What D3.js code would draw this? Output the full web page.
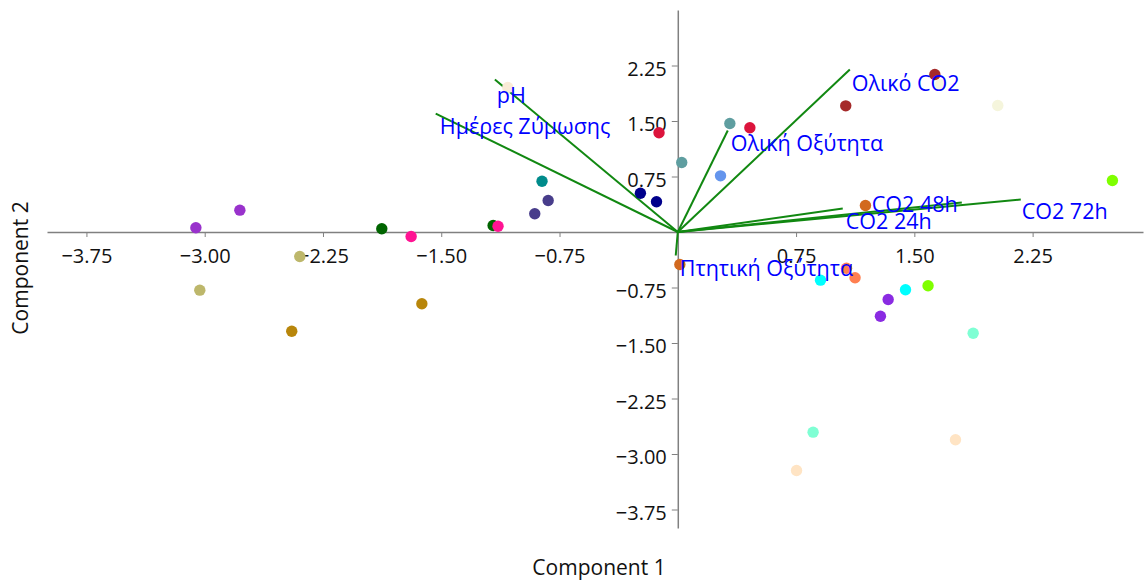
<!DOCTYPE html>
<html>
<head>
<meta charset="utf-8">
<script src="https://cdn.jsdelivr.net/npm/d3@7"></script>
<style>
  body { margin: 0; background: #fff; }
  svg { display: block; font-family: "Open Sans", "Noto Sans", sans-serif; }
</style>
</head>
<body>
<svg id="chart" width="1146" height="580"></svg>
<script>
// tick values
const xTicks = [-3.75, -3.00, -2.25, -1.50, -0.75, 0.75, 1.50, 2.25];
const yTicks = [2.25, 1.50, 0.75, -0.75, -1.50, -2.25, -3.00, -3.75];

// sample scores (component 1, component 2) and the sample they belong to
const pointX = [-3.056, -2.777, -3.031, -2.397, -2.448, -1.623, -1.877, -1.171, -1.691, -1.140,
                -0.861, -0.822, -0.907, -0.119, 0.457, 0.330, 0.025, 0.271, -0.237, -0.135,
                1.065, 1.630, 1.666, 2.029, 1.190, 0.013, 1.070, 1.124, 0.905, 1.444,
                1.587, 2.756, 1.334, 1.285, 1.873, 0.858, 1.761, 0.753, -1.078];
const pointY = [0.057, 0.295, -0.786, -0.331, -1.341, -0.970, 0.043, 0.088, -0.061, 0.078,
                0.686, 0.426, 0.246, 1.341, 1.408, 1.466, 0.939, 0.759, 0.524, 0.408,
                1.705, 2.128, 1.993, 1.709, 0.358, -0.439, -0.489, -0.619, -0.651, -0.781,
                -0.727, 0.696, -0.912, -1.138, -1.368, -2.705, -2.808, -3.223, 1.953];
const pointGroup = [1, 1, 2, 2, 3, 3, 4, 4, 5, 5,
                    6, 7, 7, 8, 8, 9, 9, 10, 11, 11,
                    12, 12, 13, 13, 14, 14, 15, 15, 16, 16,
                    17, 17, 18, 18, 19, 19, 20, 20, 21];

// variable loadings
const varNames = ['pH', 'Ημέρες Ζύμωσης', 'Ολική Οξύτητα', 'Ολικό CO2',
                  'CO2 72h', 'CO2 48h', 'CO2 24h', 'Πτητική Οξύτητα'];
const loadX = [-1.160, -1.535, 0.317, 1.091, 2.175, 1.801, 1.046, -0.013];
const loadY = [2.061, 1.601, 1.372, 2.196, 0.439, 0.399, 0.318, -0.318];
const labelX = [-1.148, -1.509, 0.336, 1.103, 2.181, 1.230, 1.065, 0.013];
const labelY = [1.750, 1.331, 1.101, 1.912, 0.182, 0.277, 0.047, -0.588];

const margin = { top: 10, right: 3, bottom: 52, left: 47 };
const width = 1146 - margin.left - margin.right;
const height = 580 - margin.top - margin.bottom;

const palette = ['darkorchid', 'darkkhaki', 'darkgoldenrod', 'darkgreen', 'deeppink',
                 'darkcyan', 'darkslateblue', 'crimson', 'cadetblue', 'cornflowerblue',
                 'darkblue', 'brown', 'beige', 'chocolate', 'coral',
                 'cyan', 'chartreuse', 'blueviolet', 'aquamarine', 'bisque', 'antiquewhite'];
const colorScale = d3.scaleOrdinal()
    .domain(d3.range(1, 22))
    .range(palette);

const svg = d3.select('#chart');
const g = svg.append('g')
    .attr('transform', `translate(${margin.left},${margin.top})`);

const xScale = d3.scaleLinear().domain([-4.0, 2.95]).range([0, width]);
const yScale = d3.scaleLinear().domain([-4.0, 3.0]).range([height, 0]);

// axes crossing at the origin
const xAxis = g.append('g')
    .attr('transform', `translate(0,${yScale(0)})`)
    .call(d3.axisBottom(xScale)
        .tickValues(xTicks)
        .tickFormat(d3.format('.2f'))
        .tickSize(5)
        .tickSizeOuter(0)
        .tickPadding(12));

const yAxis = g.append('g')
    .attr('transform', `translate(${xScale(0)},0)`)
    .call(d3.axisLeft(yScale)
        .tickValues(yTicks)
        .tickFormat(d3.format('.2f'))
        .tickSize(6)
        .tickSizeOuter(0)
        .tickPadding(5));

[xAxis, yAxis].forEach(a => {
    a.select('.domain').attr('stroke', '#808080').attr('stroke-width', 1.5);
    a.selectAll('.tick line').attr('stroke', '#808080');
    a.selectAll('.tick text')
        .attr('fill', '#111')
        .style('font-size', '20px')
        .style('font-family', '"Open Sans", "Noto Sans", sans-serif');
});
yAxis.selectAll('.tick text').attr('dy', '0.48em');

// loading vectors
g.append('g').selectAll('line')
    .data(varNames)
    .enter()
    .append('line')
    .attr('x1', xScale(0))
    .attr('y1', yScale(0))
    .attr('x2', (d, i) => xScale(loadX[i]))
    .attr('y2', (d, i) => yScale(loadY[i]))
    .attr('stroke', '#118811')
    .attr('stroke-width', 2);

// sample points
g.append('g').selectAll('circle')
    .data(pointX)
    .enter()
    .append('circle')
    .attr('cx', d => xScale(d))
    .attr('cy', (d, i) => yScale(pointY[i]))
    .attr('r', 5.7)
    .attr('fill', (d, i) => colorScale(pointGroup[i]));

// loading labels
g.append('g').selectAll('text')
    .data(varNames)
    .enter()
    .append('text')
    .attr('x', (d, i) => xScale(labelX[i]))
    .attr('y', (d, i) => yScale(labelY[i]))
    .attr('fill', '#0000ff')
    .style('font-size', '21.5px')
    .text(d => d);

// axis titles
svg.append('text')
    .attr('x', 599)
    .attr('y', 575)
    .attr('text-anchor', 'middle')
    .attr('fill', '#111')
    .style('font-size', '21px')
    .text('Component 1');

svg.append('text')
    .attr('transform', 'translate(28,268) rotate(-90)')
    .attr('text-anchor', 'middle')
    .attr('fill', '#111')
    .style('font-size', '21px')
    .text('Component 2');
</script>
</body>
</html>
